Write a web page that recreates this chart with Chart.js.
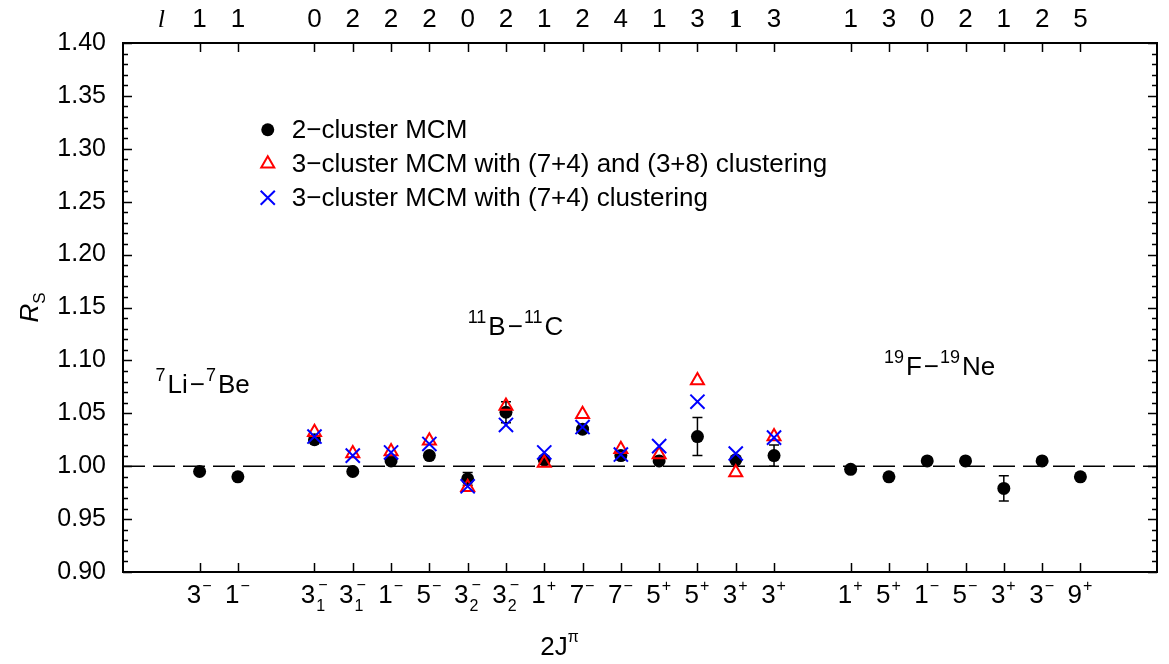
<!DOCTYPE html>
<html>
<head>
<meta charset="utf-8">
<script src="https://cdn.jsdelivr.net/npm/chart.js@4.4.1/dist/chart.umd.min.js"></script>
<style>
  html, body { margin: 0; padding: 0; background: #fff; }
  #wrap { width: 1169px; height: 664px; position: relative; }
</style>
</head>
<body>
<div id="wrap"><canvas id="chart"></canvas></div>
<script>
// states along the axis (gaps at 2 and 16 separate the three mirror pairs)
const positions = [0, 1, 3, 4, 5, 6, 7, 8, 9, 10, 11, 12, 13, 14, 15, 17, 18, 19, 20, 21, 22, 23];
const spinLabels = ["3", "1", "3", "3", "1", "5", "3", "3", "1", "7", "7", "5", "5", "3", "3", "1", "5", "1", "5", "3", "3", "9"];
const spinSubs = ["", "", "1", "1", "", "", "2", "2", "", "", "", "", "", "", "", "", "", "", "", "", "", ""];
const parities = ["−", "−", "−", "−", "−", "−", "−", "−", "+", "−", "−", "+", "+", "+", "+", "+", "+", "−", "−", "+", "−", "+"];
const lLabels = ["1", "1", "0", "2", "2", "2", "0", "2", "1", "2", "4", "1", "3", "1", "3", "1", "3", "0", "2", "1", "2", "5"];

// R_s values
const twoCluster = [0.995, 0.990, 1.025, 0.995, 1.005, 1.010, 0.988, 1.051, 1.006, 1.035, 1.010, 1.005, 1.028, 1.006, 1.010,
  0.997, 0.990, 1.005, 1.005, 0.979, 1.005, 0.990];
const twoClusterErr = [0, 0, 0, 0, 0, 0, 0.006, 0.010, 0, 0, 0, 0, 0.018, 0, 0.010, 0, 0, 0, 0, 0.012, 0, 0];
const threeClusterBoth = [null, null, 1.032, 1.012, 1.014, 1.024, 0.980, 1.057, 1.003, 1.049, 1.016, 1.011, 1.081, 0.994, 1.028,
  null, null, null, null, null, null, null];
const threeCluster74 = [null, null, 1.028, 1.010, 1.013, 1.021, 0.981, 1.039, 1.013, 1.037, 1.011, 1.019, 1.061, 1.012, 1.027,
  null, null, null, null, null, null, null];

const yMin = 0.90, yMax = 1.40;
const xMin = -2, xMax = 25;

const FONT = "'Liberation Sans', Arial, sans-serif";

function toPoints(vals) {
  const pts = [];
  vals.forEach((v, i) => { if (v !== null) pts.push({ x: positions[i], y: v }); });
  return pts;
}

const datasets = [
  {
    label: "3−cluster MCM with (7+4) clustering",
    data: toPoints(threeCluster74),
    pointStyle: "crossRot", pointRadius: 10, pointBorderWidth: 2,
    borderColor: "#0000ff", backgroundColor: "rgba(0,0,0,0)", showLine: false, order: 1
  },
  {
    label: "3−cluster MCM with (7+4) and (3+8) clustering",
    data: toPoints(threeClusterBoth),
    pointStyle: "triangle", pointRadius: 7.5, pointBorderWidth: 2,
    borderColor: "#ff0000", backgroundColor: "rgba(0,0,0,0)", showLine: false, order: 2
  },
  {
    label: "2−cluster MCM",
    data: toPoints(twoCluster),
    pointStyle: "circle", pointRadius: 6.5, pointBorderWidth: 0,
    borderColor: "#000", backgroundColor: "#000", showLine: false, order: 3
  },
  {
    type: "line",
    data: [{ x: xMin, y: 1.0 }, { x: xMax, y: 1.0 }],
    borderColor: "#000", borderWidth: 1.5, borderDash: [22, 8], pointRadius: 0, order: 4
  }
];

function richWidth(ctx, parts) {
  let w = 0;
  parts.forEach(p => { ctx.font = p.font; w += ctx.measureText(p.t).width; });
  return w;
}
function drawRich(ctx, parts, x, y) {
  let cx = x;
  parts.forEach(p => {
    ctx.font = p.font;
    ctx.fillText(p.t, cx, y + (p.dy || 0));
    cx += ctx.measureText(p.t).width + (p.gap || 0);
  });
}

const sup = "16px " + FONT;
const base = "26px " + FONT;

const axesPlugin = {
  id: "frameAxes",
  beforeDatasetsDraw(chart) {
    const { ctx, scales: { x, y } } = chart;
    ctx.save();
    ctx.strokeStyle = "#000";
    ctx.lineWidth = 1.5;
    positions.forEach((p, i) => {
      const e = twoClusterErr[i];
      if (!e) return;
      const px = x.getPixelForValue(p);
      const y1 = y.getPixelForValue(twoCluster[i] + e);
      const y2 = y.getPixelForValue(twoCluster[i] - e);
      ctx.beginPath();
      ctx.moveTo(px, y1); ctx.lineTo(px, y2);
      ctx.moveTo(px - 5, y1); ctx.lineTo(px + 5, y1);
      ctx.moveTo(px - 5, y2); ctx.lineTo(px + 5, y2);
      ctx.stroke();
    });
    ctx.restore();
  },
  afterDraw(chart) {
    const { ctx, chartArea: a, scales: { x, y } } = chart;
    ctx.save();
    ctx.strokeStyle = "#000";
    ctx.fillStyle = "#000";

    // frame
    ctx.lineWidth = 2;
    ctx.strokeRect(a.left, a.top, a.right - a.left, a.bottom - a.top);

    // y ticks, both sides, inward
    ctx.lineWidth = 1.5;
    for (let i = 0; i <= 50; i++) {
      const v = yMin + i * 0.01;
      const py = Math.round(y.getPixelForValue(v)) + 0.5;
      const len = i % 5 === 0 ? 9 : 5;
      ctx.beginPath();
      ctx.moveTo(a.left, py); ctx.lineTo(a.left + len, py);
      ctx.moveTo(a.right, py); ctx.lineTo(a.right - len, py);
      ctx.stroke();
    }
    ctx.font = "25px " + FONT;
    ctx.textAlign = "right";
    ctx.textBaseline = "middle";
    for (let i = 0; i <= 10; i++) {
      const v = yMin + i * 0.05;
      ctx.fillText(v.toFixed(2), a.left - 17, y.getPixelForValue(v));
    }

    // x ticks top and bottom, inward
    positions.forEach(p => {
      const px = Math.round(x.getPixelForValue(p)) + 0.5;
      ctx.beginPath();
      ctx.moveTo(px, a.top); ctx.lineTo(px, a.top + 9);
      ctx.moveTo(px, a.bottom); ctx.lineTo(px, a.bottom - 9);
      ctx.stroke();
    });

    // bottom labels 2J^pi
    ctx.textAlign = "left";
    ctx.textBaseline = "alphabetic";
    positions.forEach((p, i) => {
      const px = x.getPixelForValue(p);
      ctx.font = base;
      const bw = ctx.measureText(spinLabels[i]).width;
      ctx.font = sup;
      const sw = Math.max(ctx.measureText(parities[i]).width, spinSubs[i] ? ctx.measureText(spinSubs[i]).width + 2 : 0);
      const x0 = px - (bw + sw) / 2 - 1;
      const by = a.bottom + 31;
      ctx.font = base;
      ctx.fillText(spinLabels[i], x0, by);
      ctx.font = sup;
      if (spinSubs[i]) {
        ctx.fillText(spinSubs[i], x0 + bw + 1, by + 8);
        ctx.fillText(parities[i], x0 + bw + 3, by - 13);
      } else {
        ctx.fillText(parities[i], x0 + bw + 1, by - 12);
      }
    });

    // top labels l
    ctx.textAlign = "center";
    positions.forEach((p, i) => {
      const px = x.getPixelForValue(p);
      ctx.font = i === 13 ? "bold 26px 'Liberation Serif', serif" : base;
      ctx.fillText(lLabels[i], px, a.top - 16);
    });
    ctx.font = "italic 26px 'Liberation Serif', serif";
    ctx.fillText("l", x.getPixelForValue(-1), a.top - 16);

    // x title
    ctx.textAlign = "left";
    const xt = [{ t: "2J", font: base }, { t: "π", font: sup, dy: -13 }];
    drawRich(ctx, xt, x.getPixelForValue(9.4) - richWidth(ctx, xt) / 2, a.bottom + 83);

    // y title
    ctx.save();
    ctx.translate(38, y.getPixelForValue(1.15));
    ctx.rotate(-Math.PI / 2);
    const yt = [{ t: "R", font: "italic 26px " + FONT }, { t: "S", font: "17px " + FONT, dy: 7 }];
    drawRich(ctx, yt, -richWidth(ctx, yt) / 2, 0);
    ctx.restore();

    // nucleus pair annotations
    const pairs = [
      { at: [-1.15, 1.0695], parts: [["7", 1], ["Li", 0], ["−", 2], ["7", 1], ["Be", 0]] },
      { at: [7.0, 1.124], parts: [["11", 1], ["B", 0], ["−", 2], ["11", 1], ["C", 0]] },
      { at: [17.87, 1.0865], parts: [["19", 1], ["F", 0], ["−", 2], ["19", 1], ["Ne", 0]] }
    ];
    pairs.forEach(pr => {
      const parts = pr.parts.map(([t, s]) => ({
        t, font: s === 1 ? "18px " + FONT : base, dy: s === 1 ? -12 : 0, gap: s === 2 ? 1 : 2
      }));
      drawRich(ctx, parts, x.getPixelForValue(pr.at[0]), y.getPixelForValue(pr.at[1]));
    });

    // legend
    const legendItems = [datasets[2], datasets[1], datasets[0]];
    const lx = x.getPixelForValue(1.78);
    legendItems.forEach((ds, i) => {
      const ly = y.getPixelForValue(1.318) + i * 34;
      ctx.fillStyle = ds.backgroundColor;
      ctx.strokeStyle = ds.borderColor;
      ctx.lineWidth = ds.pointBorderWidth || 1;
      Chart.helpers.drawPoint(ctx, { pointStyle: ds.pointStyle, radius: ds.pointRadius, rotation: 0, borderWidth: ds.pointBorderWidth }, lx, ly);
      ctx.fillStyle = "#000";
      ctx.font = base;
      ctx.textBaseline = "middle";
      ctx.fillText(ds.label, lx + 24, ly + 1);
      ctx.textBaseline = "alphabetic";
    });

    ctx.restore();
  }
};

new Chart(document.getElementById("chart"), {
  type: "scatter",
  data: { datasets: datasets },
  options: {
    responsive: true,
    maintainAspectRatio: false,
    animation: false,
    layout: { padding: { left: 123, right: 6, top: 43, bottom: 92 } },
    plugins: { legend: { display: false }, tooltip: { enabled: false } },
    scales: {
      x: { type: "linear", min: xMin, max: xMax, display: false },
      y: { type: "linear", min: yMin, max: yMax, display: false }
    }
  },
  plugins: [axesPlugin]
});
</script>
</body>
</html>
